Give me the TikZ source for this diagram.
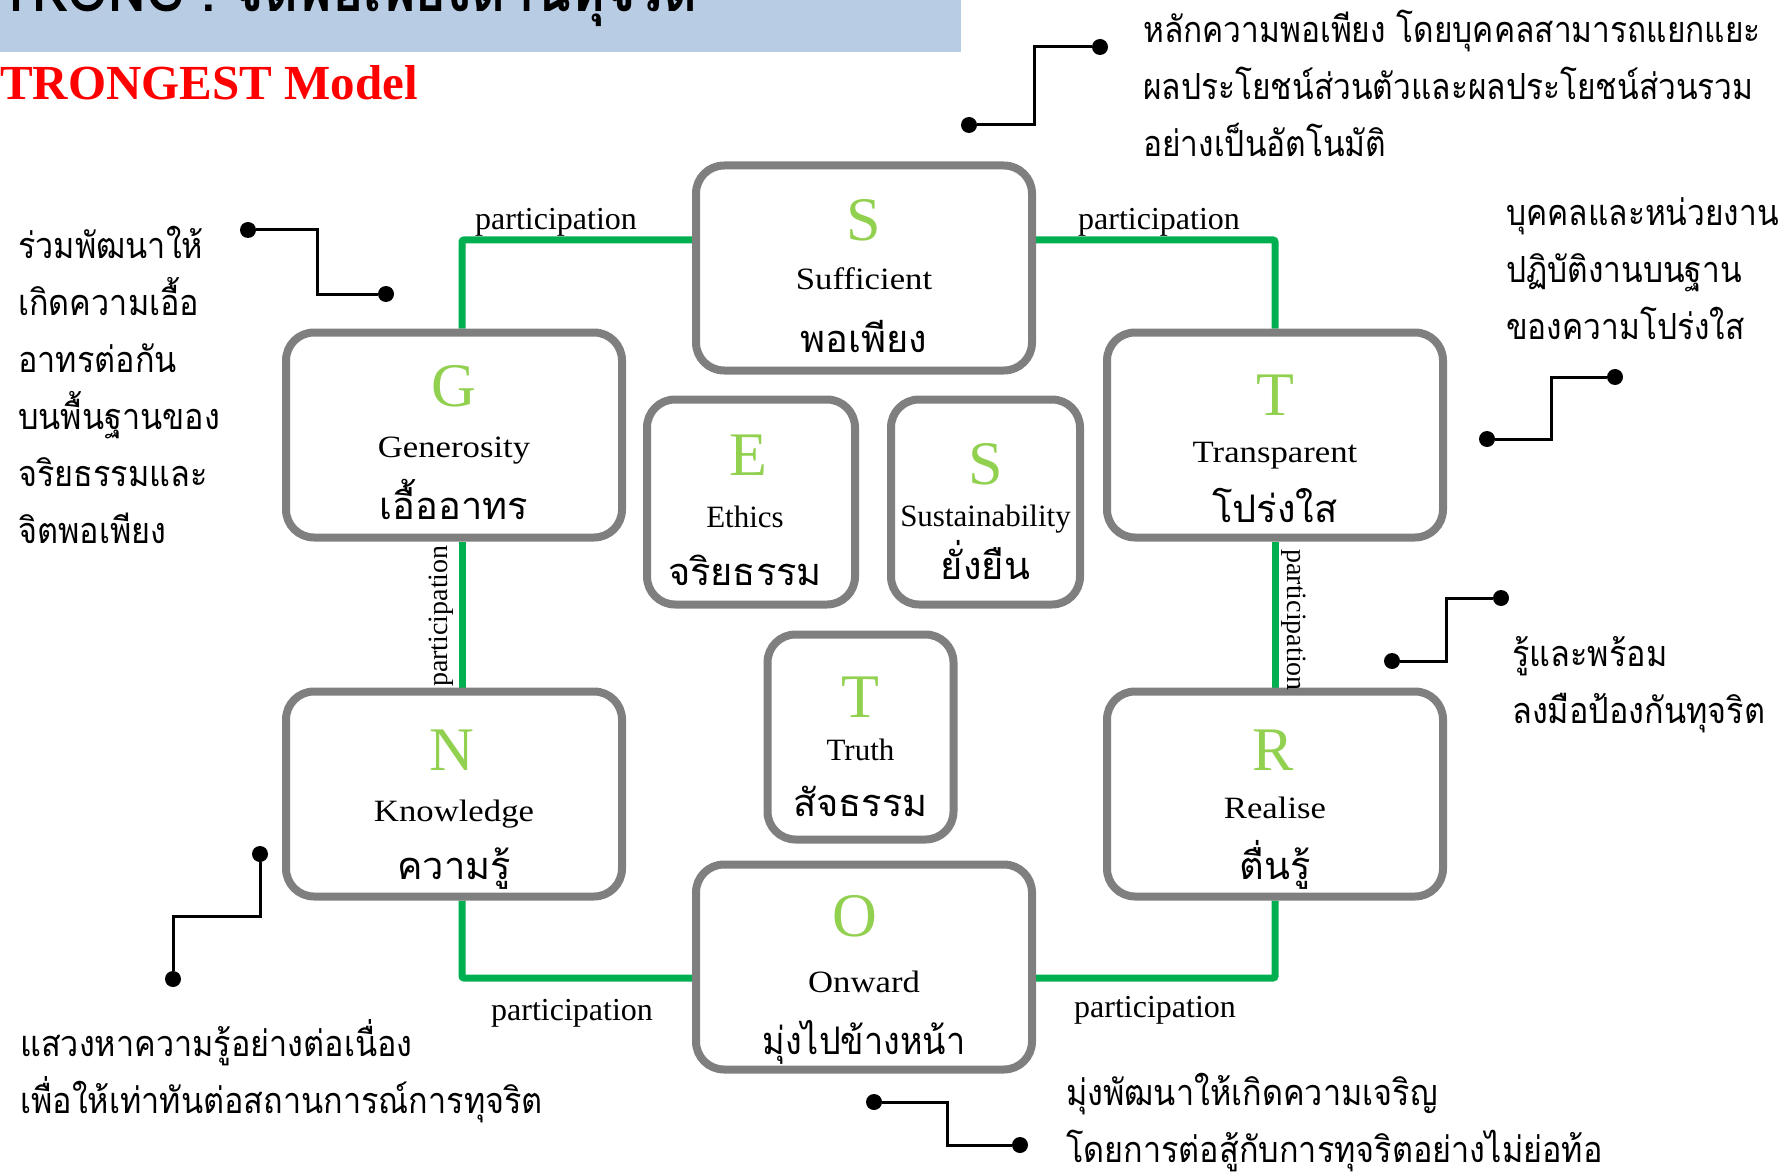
\documentclass[tikz,border=0pt]{standalone}
\usepackage{fontspec}
\setmainfont{Liberation Serif}
\newfontfamily\engw[FakeStretch=1.12]{Liberation Serif}
\newfontfamily\thai[Script=Thai]{Loma}
\newfontfamily\thain[Script=Thai,FakeStretch=0.9]{Loma}
\newfontfamily\thaint[Script=Thai,FakeStretch=0.88]{Loma}
\usetikzlibrary{calc}
\pgfdeclarelayer{background}
\pgfsetlayers{background,main}
\definecolor{gbar}{HTML}{B8CCE4}
\definecolor{pgreen}{HTML}{00B050}
\definecolor{lgreen}{HTML}{92D050}
\definecolor{bgray}{HTML}{7F7F7F}
\begin{document}
\begin{tikzpicture}[x=1pt,y=-1pt,
  card/.style={draw=bgray, line width=8pt, rounded corners=28pt, fill=white, inner sep=0pt, minimum height=205pt},
  bigcard/.style={card, minimum width=336pt},
  link/.style={draw=pgreen, line width=7pt, rounded corners=2pt},
  plabel/.style={font=\fontsize{32}{32}\selectfont, inner sep=0pt},
  vlabel/.style={font=\fontsize{28}{28}\selectfont, inner sep=0pt},
  lett/.style={text=lgreen, font=\fontsize{62}{62}\selectfont, anchor=base, inner sep=0pt},
  eng/.style={font=\engw\fontsize{31}{31}\selectfont, anchor=base, inner sep=0pt},
  engn/.style={font=\fontsize{31}{31}\selectfont, anchor=base, inner sep=0pt},
  thw/.style={font=\thai\fontsize{38}{38}\selectfont, anchor=base, inner sep=0pt},
  desc/.style={font=\thain\fontsize{36}{57}\selectfont, anchor=base west, align=left, inner sep=0pt},
  callout/.style={draw=black, line width=3pt},
  dot/.style={circle, fill=black, inner sep=0pt, minimum size=16pt}
]
\useasboundingbox (0,0) rectangle (1787,1174);

% title area
\node[fill=gbar, minimum width=961pt, minimum height=52pt, inner sep=0pt, anchor=north west] (bar) at (0,0) {};
\node[anchor=base west, inner sep=0pt, font=\thain\bfseries\fontsize{58}{58}\selectfont] (title) at (0,12) {TRONG : จิตพอเพียงต้านทุจริต};
\node[anchor=base west, inner sep=0pt, text=red, font=\bfseries\fontsize{49}{49}\selectfont] (model) at (0,100) {TRONGEST Model};

% cards
\node[bigcard] (S) at (864,268) {};
\node[bigcard] (G) at (454,435) {};
\node[bigcard] (T) at (1275,435) {};
\node[card, minimum width=208pt] (E) at (751,502) {};
\node[card, minimum width=189pt] (S2) at (985.5,502) {};
\node[card, minimum width=186pt] (Tr) at (860.5,737) {};
\node[bigcard] (N) at (454,794) {};
\node[bigcard] (R) at (1275,794) {};
\node[bigcard] (O) at (864,967) {};

% green links
\begin{pgfonlayer}{background}
\draw[link] ([yshift=28pt]S.west) -| ([xshift=8pt]G.north);
\draw[link] ([yshift=28pt]S.east) -| (T.north);
\draw[link] ([xshift=8pt]G.south) -- ([xshift=8pt]N.north);
\draw[link] (T.south) -- (R.north);
\draw[link] ([xshift=8pt]N.south) |- ([yshift=-11pt]O.west);
\draw[link] (R.south) |- ([yshift=-11pt]O.east);
\end{pgfonlayer}

% participation labels
\node[plabel] (pl1) at (556,222) {participation};
\node[plabel] (pl2) at (1159,222) {participation};
\node[vlabel, rotate=90] (pl3) at (441,616) {participation};
\node[vlabel, rotate=-90] (pl4) at (1294,620) {participation};
\node[plabel] (pl5) at (572,1013) {participation};
\node[plabel] (pl6) at (1155,1010) {participation};

% card texts
\node[lett] (Sl) at ($(S.center)+(0,-27)$) {S};
\node[eng]  (Se) at ($(S.center)+(0,21)$) {Sufficient};
\node[thw]  (St) at ($(S.center)+(0,84)$) {พอเพียง};

\node[lett] (Gl) at ($(G.center)+(0,-29)$) {G};
\node[eng]  (Ge) at ($(G.center)+(0,22)$) {Generosity};
\node[thw]  (Gt) at ($(G.center)+(0,84)$) {เอื้ออาทร};

\node[lett] (Tl) at ($(T.center)+(0,-20)$) {T};
\node[eng]  (Te) at ($(T.center)+(0,27)$) {Transparent};
\node[thw]  (Tt) at ($(T.center)+(0,87)$) {โปร่งใส};

\node[lett] (El) at ($(E.center)+(-3,-27)$) {E};
\node[engn] (Ee) at ($(E.center)+(-6,25)$) {Ethics};
\node[thw]  (Et) at ($(E.center)+(-6,83)$) {จริยธรรม};

\node[lett] (S2l) at ($(S2.center)+(0,-18)$) {S};
\node[engn] (S2e) at ($(S2.center)+(0,24)$) {Sustainability};
\node[thw]  (S2t) at ($(S2.center)+(0,77)$) {ยั่งยืน};

\node[lett] (Trl) at ($(Tr.center)+(0,-20)$) {T};
\node[engn] (Tre) at ($(Tr.center)+(0,23)$) {Truth};
\node[thw]  (Trt) at ($(Tr.center)+(0,79)$) {สัจธรรม};

\node[lett] (Nl) at ($(N.center)+(-2,-24)$) {N};
\node[eng]  (Ne) at ($(N.center)+(0,27)$) {Knowledge};
\node[thw]  (Nt) at ($(N.center)+(0,85)$) {ความรู้};

\node[lett] (Rl) at ($(R.center)+(-2,-24)$) {R};
\node[eng]  (Re) at ($(R.center)+(0,24)$) {Realise};
\node[thw]  (Rt) at ($(R.center)+(0,85)$) {ตื่นรู้};

\node[lett] (Ol) at ($(O.center)+(-9,-31)$) {O};
\node[eng]  (Oe) at ($(O.center)+(0,25)$) {Onward};
\node[thw, font=\thain\fontsize{38}{38}\selectfont]  (Ot) at ($(O.center)+(0,87)$) {มุ่งไปข้างหน้า};

% callouts
\node[dot] (c1a) at (1100,47) {};
\node[dot] (c1b) at (969,125) {};
\draw[callout] (c1a) -| ($(c1a)!0.5!(c1b)$) |- (c1b);
\node[dot] (c2a) at (248,230) {};
\node[dot] (c2b) at (386,294) {};
\draw[callout] (c2a) -| ($(c2a)!0.5!(c2b)$) |- (c2b);
\node[dot] (c3a) at (1615,377) {};
\node[dot] (c3b) at (1487,439) {};
\draw[callout] (c3a) -| ($(c3a)!0.5!(c3b)$) |- (c3b);
\node[dot] (c4a) at (1501,598) {};
\node[dot] (c4b) at (1392,661) {};
\draw[callout] (c4a) -| ($(c4a)!0.5!(c4b)$) |- (c4b);
\node[dot] (c5a) at (260,854) {};
\node[dot] (c5b) at (173,979) {};
\draw[callout] (c5a) |- ($(c5a)!0.5!(c5b)$) -| (c5b);
\node[dot] (c6a) at (874,1102) {};
\node[dot] (c6b) at (1020,1145) {};
\draw[callout] (c6a) -| ($(c6a)!0.5!(c6b)$) |- (c6b);

% descriptions (anchor = baseline of the last line)
\node[desc, font=\thaint\fontsize{36}{57}\selectfont] (d1) at (1143,157) {หลักความพอเพียง โดยบุคคลสามารถแยกแยะ\\ผลประโยชน์ส่วนตัวและผลประโยชน์ส่วนรวม\\อย่างเป็นอัตโนมัติ};
\node[desc] (d2) at (18,543) {ร่วมพัฒนาให้\\เกิดความเอื้อ\\อาทรต่อกัน\\บนพื้นฐานของ\\จริยธรรมและ\\จิตพอเพียง};
\node[desc, font=\thaint\fontsize{36}{57}\selectfont] (d3) at (1506,339) {บุคคลและหน่วยงาน\\ปฏิบัติงานบนฐาน\\ของความโปร่งใส};
\node[desc] (d4) at (1512,723) {รู้และพร้อม\\ลงมือป้องกันทุจริต};
\node[desc] (d5) at (20,1113) {แสวงหาความรู้อย่างต่อเนื่อง\\เพื่อให้เท่าทันต่อสถานการณ์การทุจริต};
\node[desc] (d6) at (1066,1162) {มุ่งพัฒนาให้เกิดความเจริญ\\โดยการต่อสู้กับการทุจริตอย่างไม่ย่อท้อ};
\end{tikzpicture}
\end{document}
